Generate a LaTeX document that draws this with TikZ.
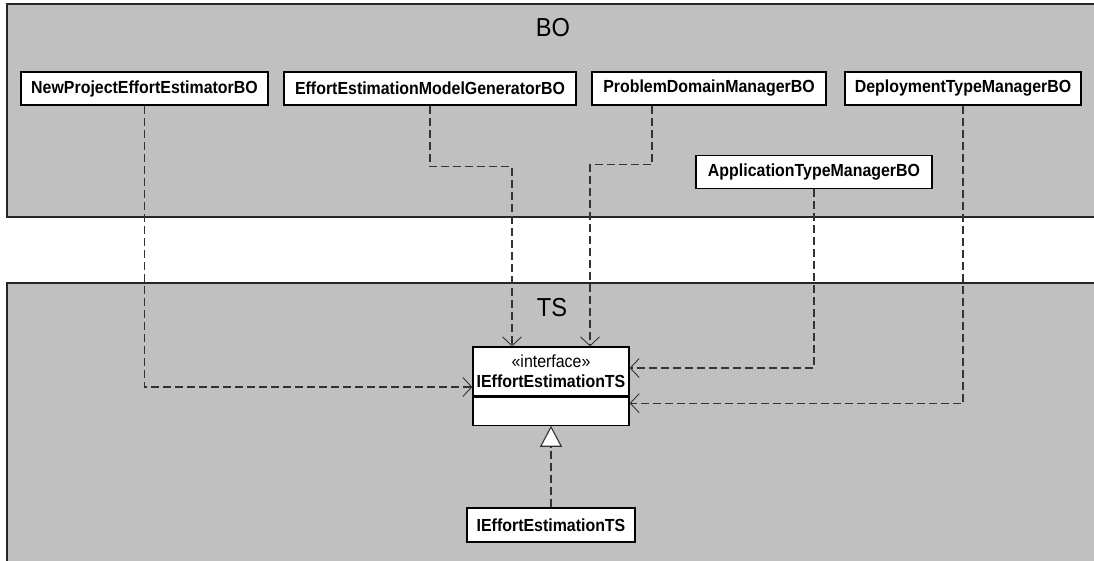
\documentclass[tikz,border=0pt]{standalone}
\usepackage{fontspec}
\setmainfont{Liberation Sans}
\newfontfamily\umlfont[FakeStretch=0.91]{Liberation Sans}
\usetikzlibrary{arrows.meta,calc}
\definecolor{pkgfill}{HTML}{C0C0C0}
\definecolor{linegray}{HTML}{333333}

\begin{document}
\begin{tikzpicture}[x=1pt,y=-1pt,
  pkg/.style={draw=black!85, line width=1.5pt, fill=pkgfill},
  pkglabel/.style={font=\umlfont\fontsize{26}{30}\selectfont, inner sep=0pt},
  cls/.style={draw=black, line width=1.2pt, fill=white, inner sep=0pt,
    font=\umlfont\fontsize{17.5}{20}\selectfont\bfseries, minimum height=33pt},
  dep/.style={draw=linegray, line width=1.1pt, dash pattern=on 8pt off 4pt,
    -{Straight Barb[length=9pt,width=19pt,line width=0.9pt]}},
  real/.style={draw=linegray, line width=1.1pt, dash pattern=on 8pt off 4pt,
    -{Triangle[open,length=21pt,width=22pt,fill=white,line width=1.1pt]}},
]
\useasboundingbox (0,0) rectangle (1094,560);
\fill[white] (0,0) rectangle (1094,560);
\clip (0,0) rectangle (1094,560);

% packages
\path[pkg] (7,4) rectangle (1110,217);
\path[pkg] (7,283) rectangle (1110,580);
\node[pkglabel] (bolbl) at (553,28) {BO};
\node[pkglabel] (tslbl) at (552,308) {TS};

% business objects
\node[cls, minimum width=247pt] (np) at (144.5,88.5) {NewProjectEffortEstimatorBO};
\node[cls, minimum width=292pt] (em) at (430,88.5) {EffortEstimationModelGeneratorBO};
\node[cls, minimum width=234pt] (pd) at (709,88.5) {ProblemDomainManagerBO};
\node[cls, minimum width=236pt] (dt) at (963,88.5) {DeploymentTypeManagerBO};
\node[cls, minimum width=236pt] (atm) at (814,172) {ApplicationTypeManagerBO};

% interface class
\node[draw=black, line width=1.2pt, fill=white, minimum width=156pt, minimum height=49pt,
  inner sep=0pt, align=center, font=\umlfont\fontsize{17.5}{20}\selectfont]
  (ifc) at (551,371.5) {«interface»\\\textbf{IEffortEstimationTS}};
\node[draw=black, line width=1.2pt, fill=white, minimum width=156pt, minimum height=28pt,
  inner sep=0pt, anchor=north] (ifcb) at (ifc.south) {};

% implementation
\node[cls, minimum width=168pt, minimum height=34pt] (impl) at (551,525) {IEffortEstimationTS};

% dependencies
\draw[dep] (np.south) |- ($(ifc.west)+(0,15.5)$);
\draw[dep] (em.south) -- ++(0,61) -| ($(ifc.north)+(-39,0)$);
\draw[dep] ($(pd.south)+(-57,0)$) -- ++(0,59) -| ($(ifc.north)+(39,0)$);
\draw[dep] (atm.south) |- ($(ifc.east)+(0,-3.5)$);
\draw[dep] (dt.south) |- ($(ifcb.east)+(0,-8)$);

% realization
\draw[real] (impl.north) -- (ifcb.south);
\end{tikzpicture}
\end{document}
